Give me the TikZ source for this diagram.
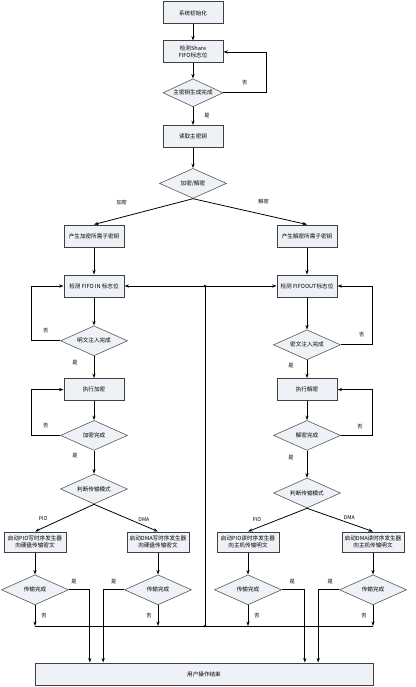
\documentclass[tikz,border=0pt]{standalone}
\usepackage{fontspec}
\newfontfamily\cjk{Noto Sans CJK SC}
\usepackage{tikz}
\usetikzlibrary{shapes.geometric, arrows.meta, positioning, calc}
\definecolor{boxfill}{HTML}{EEF1F5}
\tikzstyle{block} = [rectangle, minimum width=60pt, minimum height=22pt, align=center, inner sep=1pt, draw=black!75, line width=1pt, fill=boxfill, font=\cjk\fontsize{5.6}{7.5}\selectfont]
\tikzstyle{wide} = [block, minimum width=62pt, minimum height=20pt]
\tikzstyle{decision} = [diamond, aspect=2.2, minimum width=67pt, minimum height=30pt, align=center, inner sep=0pt, draw=black!65, line width=0.6pt, fill=boxfill, font=\cjk\fontsize{5.6}{7}\selectfont]
\tikzstyle{arrow} = [line width=0.8pt, -{Stealth[length=4.5pt, width=3.2pt]}]
\tikzstyle{line} = [line width=0.8pt]
\tikzstyle{lbl} = [font=\cjk\fontsize{5.2}{6}\selectfont, inner sep=1pt]

\begin{document}
\begin{tikzpicture}[x=1pt, y=-1pt]
  \useasboundingbox (0,0) rectangle (415,687);
  \node[block] (init) at (193,13) {系统初始化};
  \node[block, below=16pt of init] (share) {检测Share\\FIFO标志位};
  \node[decision, minimum width=60pt, minimum height=28pt, below=15pt of share] (keydone) {主密钥生成完成};
  \node[block, below=18pt of keydone] (readkey) {读取主密钥};
  \node[decision, below=20pt of readkey] (mode) {加密/解密};

  % 加密
  \node[block] (genenc) at (94,236) {产生加密所需子密钥};
  \node[block, below=27pt of genenc] (fifoin) {检测 FIFO IN 标志位};
  \node[decision, below=28pt of fifoin] (ptdone) {明文注入完成};
  \node[block, below=22pt of ptdone] (enc) {执行加密};
  \node[decision, below=19pt of enc] (encdone) {加密完成};
  \node[decision, below=23pt of encdone] (tmenc) {判断传输模式};
  \node[wide] (piowr) at (35,542) {启动PIO写时序发生器\\向硬盘传输密文};
  \node[wide] (dmawr) at (158,542) {启动DMA写时序发生器\\向硬盘传输密文};
  \node[decision, below=22pt of piowr] (piowrdone) {传输完成};
  \node[decision, below=22pt of dmawr] (dmawrdone) {传输完成};

  % 解密
  \node[block] (gendec) at (307,236) {产生解密所需子密钥};
  \node[block, below=27pt of gendec] (fifoout) {检测 FIFOOUT标志位};
  \node[decision, below=32pt of fifoout] (ctdone) {密文注入完成};
  \node[block, below=18pt of ctdone] (dec) {执行解密};
  \node[decision, below=19pt of dec] (decdone) {解密完成};
  \node[decision, below=27pt of decdone] (tmdec) {判断传输模式};
  \node[wide] (piord) at (248,542) {启动PIO读时序发生器\\向主机传输明文};
  \node[wide] (dmard) at (373,542) {启动DMA读时序发生器\\向主机传输明文};
  \node[decision, below=22pt of piord] (piorddone) {传输完成};
  \node[decision, below=22pt of dmard] (dmarddone) {传输完成};

  \node[block, minimum width=338pt] (finish) at (204,674) {用户操作结束};

  \coordinate (hub) at (205,626);
  \coordinate (hubtop) at (hub |- fifoin.east);

  % 主流程
  \draw[arrow] (init) -- (share);
  \draw[arrow] (share) -- (keydone);
  \draw[arrow] (keydone.east) -- node[lbl, above=6pt]{否} ++(43,0) |- (share.east);
  \draw[arrow] (keydone) -- node[lbl, right=10pt]{是} (readkey);
  \draw[arrow] (readkey) -- (mode);
  \draw[arrow] (mode.south) -- node[lbl, pos=0.72, above=11pt]{加密} (genenc.north);
  \draw[arrow] (mode.south) -- node[lbl, pos=0.62, above=9pt]{解密} (gendec.north);

  % 加密分支
  \draw[arrow] (genenc) -- (fifoin);
  \draw[arrow] (fifoin) -- (ptdone);
  \draw[arrow] (ptdone.west) -- node[lbl, above=6pt]{否} ++(-29,0) |- (fifoin.west);
  \draw[arrow] (ptdone) -- node[lbl, pos=0.3, left=15pt]{是} (enc);
  \draw[arrow] (enc) -- (encdone);
  \draw[arrow] (encdone.west) -- node[lbl, above=6pt]{否} ++(-29,0) |- (enc.west);
  \draw[arrow] (encdone) -- node[lbl, pos=0.2, left=15pt]{是} (tmenc);
  \draw[arrow] (tmenc.south) -- node[lbl, pos=0.86, above=6pt]{PIO} (piowr.north);
  \draw[arrow] (tmenc.south) -- node[lbl, pos=0.78, above=3pt]{DMA} (dmawr.north);
  \draw[arrow] (piowr) -- (piowrdone);
  \draw[arrow] (dmawr) -- (dmawrdone);
  \draw[arrow] (piowrdone.east) -- node[lbl, pos=0.25, above=4pt]{是} ++(21,0) coordinate (a1) -- (a1 |- finish.north);
  \draw[arrow] (dmawrdone.west) -- node[lbl, pos=0.5, above=4pt]{是} ++(-21,0) coordinate (a2) -- (a2 |- finish.north);
  \draw[arrow] (piowrdone.south) -- node[lbl, right=5pt]{否} (piowrdone.south |- hub);
  \draw[arrow] (dmawrdone.south) -- node[lbl, left=5pt]{否} (dmawrdone.south |- hub);

  % 解密分支
  \draw[arrow] (gendec) -- (fifoout);
  \draw[arrow] (fifoout) -- (ctdone);
  \draw[arrow] (ctdone.east) -- node[lbl, pos=0.65, above=6pt]{否} ++(32,0) |- (fifoout.east);
  \draw[arrow] (ctdone) -- node[lbl, pos=0.3, left=12pt]{是} (dec);
  \draw[arrow] (dec) -- (decdone);
  \draw[arrow] (decdone.east) -- node[lbl, pos=0.6, above=5pt]{否} ++(32,0) |- (dec.east);
  \draw[arrow] (decdone) -- node[lbl, pos=0.25, left=12pt]{是} (tmdec);
  \draw[arrow] (tmdec.south) -- node[lbl, pos=0.85, above=5pt]{PIO} (piord.north);
  \draw[arrow] (tmdec.south) -- node[lbl, pos=0.64, above=2pt]{DMA} (dmard.north);
  \draw[arrow] (piord) -- (piorddone);
  \draw[arrow] (dmard) -- (dmarddone);
  \draw[arrow] (piorddone.east) -- node[lbl, pos=0.45, above=4pt]{是} ++(23,0) coordinate (a3) -- (a3 |- finish.north);
  \draw[arrow] (dmarddone.west) -- node[lbl, pos=0.43, above=4pt]{是} ++(-21,0) coordinate (a4) -- (a4 |- finish.north);
  \draw[arrow] (piorddone.south) -- node[lbl, right=5pt]{否} (piorddone.south |- hub);
  \draw[arrow] (dmarddone.south) -- node[lbl, left=5pt]{否} (dmarddone.south |- hub);

  % 返回检测标志位
  \draw[line] (piowrdone.south |- hub) -- (dmarddone.south |- hub);
  \draw[line] (hub) -- (hubtop);
  \draw[arrow] (hubtop) -- (fifoin.east);
  \draw[arrow] (hubtop) -- (fifoout.west);
  \fill (hub) circle (1.3pt);
  \fill (hubtop) circle (1.3pt);
\end{tikzpicture}
\end{document}
